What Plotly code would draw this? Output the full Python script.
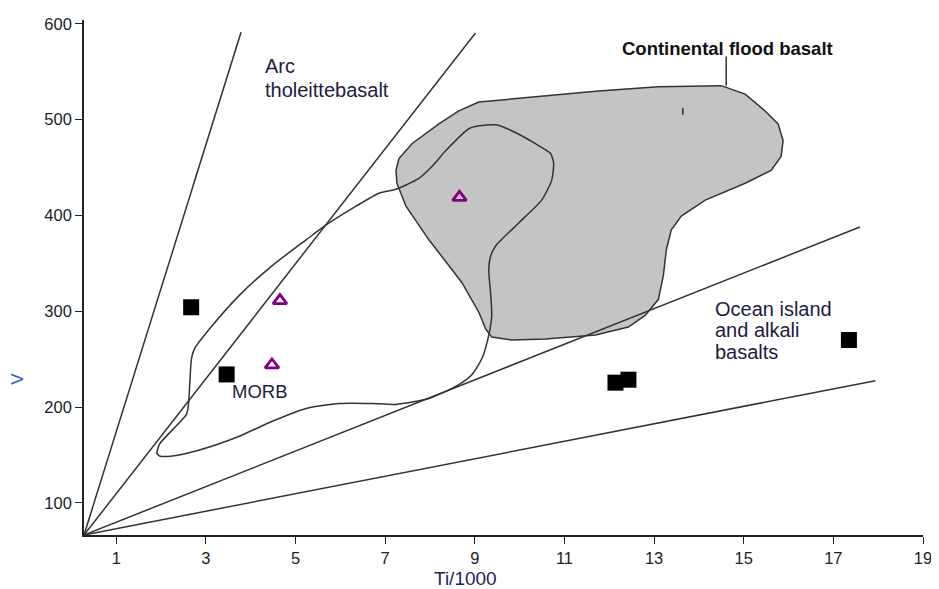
import plotly.graph_objects as go

# ---- axis setup (data units) ----
x_range = [0.279, 19.0]
y_range = [66.5, 604.0]
x_ticks = [1, 3, 5, 7, 9, 11, 13, 15, 17, 19]
y_ticks = [100, 200, 300, 400, 500, 600]

# ---- discriminant lines (from the origin corner to their end points) ----
line_end_x = [3.783, 9.014, 17.592, 17.939]
line_end_y = [591.2, 590.5, 388.0, 227.6]

# ---- MORB field outline ----
morb_x = [1.897, 1.964, 2.565, 2.610, 2.677, 2.743, 3.077, 3.745, 4.480, 5.236,
          5.682, 6.350, 6.861, 7.240, 7.752, 8.042, 8.353, 8.866, 9.088, 9.467,
          9.823, 10.424, 10.691, 10.758, 10.714, 10.491, 9.979, 9.467, 9.355, 9.311,
          9.355, 9.377, 9.311, 9.155, 8.933, 8.643, 7.975, 7.240, 6.706, 5.971,
          5.236, 4.480, 3.745, 2.854, 2.253, 1.964, 1.897]
morb_y = [151.0, 161.4, 192.4, 202.8, 250.4, 260.7, 281.4, 316.6, 347.7, 374.6,
          390.1, 409.7, 423.2, 427.3, 438.7, 451.1, 467.7, 490.5, 493.6, 494.6,
          488.4, 472.9, 464.6, 454.2, 436.6, 416.0, 392.2, 368.4, 358.0, 343.5,
          316.6, 295.9, 275.2, 250.4, 233.8, 223.5, 209.0, 202.8, 203.8, 203.8,
          198.6, 185.2, 169.6, 155.2, 149.0, 149.0, 152.1]

# ---- Continental flood basalt field ----
cfb_x = [9.088, 11.759, 13.095, 14.497, 15.032, 15.477, 15.767, 15.878, 15.834, 15.611,
         15.032, 14.141, 13.607, 13.384, 13.273, 13.206, 13.095, 12.806, 12.427, 11.692,
         10.579, 9.823, 9.377, 9.244, 9.088, 8.710, 7.975, 7.463, 7.262, 7.240,
         7.307, 7.597, 8.197, 8.643, 9.088]
cfb_y = [518.4, 529.8, 534.4, 535.5, 526.7, 509.1, 495.6, 478.1, 461.5, 447.0,
         433.6, 416.0, 399.4, 384.9, 364.2, 337.3, 312.5, 295.9, 283.5, 275.2,
         271.1, 270.0, 273.1, 281.4, 299.0, 330.1, 374.6, 409.7, 433.6, 447.0,
         459.4, 474.9, 495.6, 509.1, 518.4]

# ---- leader line for the CFB label, and small tick inside the field ----
leader_x = [14.609, 14.609]
leader_y = [566.0, 535.3]
mark_x = [13.640, 13.640]
mark_y = [512.2, 505.0]

# ---- samples ----
square_x = [2.670, 3.462, 12.138, 12.427, 17.347]
square_y = [304.2, 234.1, 225.5, 228.6, 270.0]
tri_x = [4.651, 4.473, 8.658]
tri_y = [311.2, 244.0, 418.9]

LINE = "#333333"
FONT = "Liberation Sans, Arial, sans-serif"
LABEL = "#1c1c40"

fig = go.Figure()

fig.add_trace(go.Scatter(x=cfb_x, y=cfb_y, mode="lines", fill="toself",
                         fillcolor="#c4c4c4", line=dict(color=LINE, width=1.5),
                         hoverinfo="skip", showlegend=False))
fig.add_trace(go.Scatter(x=morb_x, y=morb_y, mode="lines",
                         line=dict(color=LINE, width=1.5, shape="spline", smoothing=0.6),
                         hoverinfo="skip", showlegend=False))
for ex, ey in zip(line_end_x, line_end_y):
    fig.add_trace(go.Scatter(x=[x_range[0], ex], y=[y_range[0], ey], mode="lines",
                             line=dict(color=LINE, width=1.5),
                             hoverinfo="skip", showlegend=False))
fig.add_trace(go.Scatter(x=leader_x, y=leader_y, mode="lines",
                         line=dict(color="#222222", width=1.4),
                         hoverinfo="skip", showlegend=False))
fig.add_trace(go.Scatter(x=mark_x, y=mark_y, mode="lines",
                         line=dict(color="#222222", width=1.4),
                         hoverinfo="skip", showlegend=False))
fig.add_trace(go.Scatter(x=square_x, y=square_y, mode="markers",
                         marker=dict(symbol="square", size=16, color="black"),
                         showlegend=False))
fig.add_trace(go.Scatter(x=tri_x, y=tri_y, mode="markers",
                         marker=dict(symbol="triangle-up-open", size=12, color="#800080",
                                     line=dict(width=2.8, color="#800080")),
                         showlegend=False))

def label(text, x, y, size=20, anchor="left", bold=False, color=LABEL):
    fig.add_annotation(x=x, y=y, xref="x", yref="y", text=f"<b>{text}</b>" if bold else text,
                       showarrow=False, xanchor=anchor, yanchor="middle",
                       font=dict(family=FONT, size=size, color=color))

label("Arc", 4.279, 555.7)
label("tholeittebasalt", 4.279, 530.8)
label("Continental flood basalt", 14.629, 574.3, size=18.5, anchor="center", bold=True, color="#111111")
label("Ocean island", 14.319, 302.4)
label("and alkali", 14.319, 280.1)
label("basalts", 14.319, 257.6)
label("MORB", 3.538, 216.2, size=18.5)

fig.add_annotation(x=8.792, y=-0.0853, xref="x", yref="paper", text="Ti/1000",
                   showarrow=False, xanchor="center", yanchor="middle",
                   font=dict(family=FONT, size=19, color="#1f1f5e"))
fig.add_annotation(x=-0.0785, y=0.3036, xref="paper", yref="paper", text="V",
                   showarrow=False, xanchor="center", yanchor="middle", textangle=-90,
                   font=dict(family=FONT, size=17, color="#3060c0"))

axis_common = dict(showgrid=False, zeroline=False, showline=True, linecolor="#222222",
                   linewidth=1.6, ticks="outside", ticklen=7, tickwidth=1.3,
                   tickcolor="#222222", tickfont=dict(family=FONT, size=16.5, color="#222222"))
fig.update_xaxes(range=x_range, tickvals=x_ticks, **axis_common)
fig.update_yaxes(range=y_range, tickvals=y_ticks, **axis_common)

# the page body adds an 8px offset, so the figure is 8px smaller and margins compensate
fig.update_layout(width=931, height=581, margin=dict(l=76, r=14, t=7, b=54),
                  plot_bgcolor="white", paper_bgcolor="white", hovermode=False)

fig.write_html("out.html")
